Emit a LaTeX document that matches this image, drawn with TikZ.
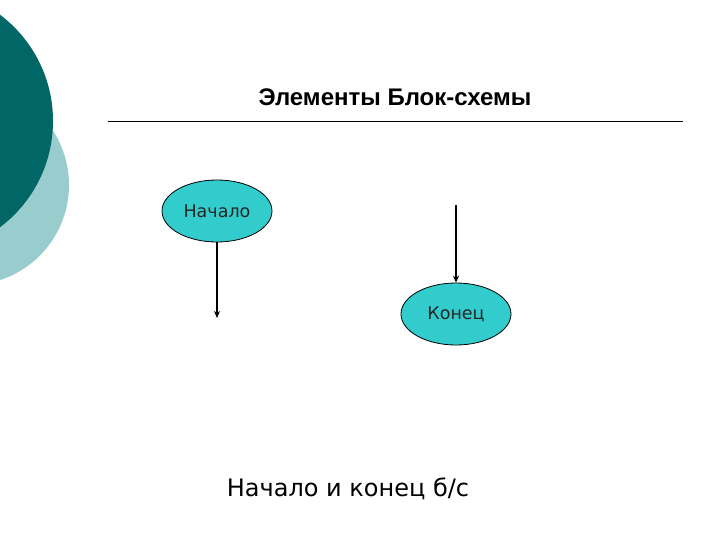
\documentclass[tikz,border=0pt]{standalone}
\usepackage{fontspec}
\setmainfont{DejaVu Sans}
\newfontfamily\titlefont{Liberation Sans}
\usetikzlibrary{shapes.geometric,arrows.meta}
\definecolor{darkteal}{RGB}{0,102,102}
\definecolor{lightteal}{RGB}{153,204,204}
\definecolor{turq}{RGB}{51,204,204}
\tikzset{
  term/.style={ellipse, draw=black, line width=0.8pt, fill=turq, minimum width=110pt, minimum height=62pt, inner sep=0pt, font=\fontsize{17.5}{20}\selectfont, text=black!85},
  flow/.style={draw=black, line width=1.3pt, -{Stealth[length=7pt,width=6pt]}}
}
\begin{document}
\begin{tikzpicture}[x=1pt,y=-1pt]
\useasboundingbox (0,0) rectangle (720,540);
\fill[white] (0,0) rectangle (720,540);
\begin{scope}
\clip (0,0) rectangle (720,540);
\fill[lightteal] (-31,185) circle (100);
\fill[darkteal] (-80,121) circle (133);
\end{scope}
\node[font=\titlefont\bfseries\fontsize{24}{28}\selectfont] (title) at (395,97) {Элементы Блок-схемы};
\coordinate (l1) at (108,121);
\coordinate (l2) at (683,121);
\draw[line width=0.8pt] (l1) -- (l2);
\node[term] (start) at (217,211) {Начало};
\coordinate (startend) at (217,318);
\draw[flow] (start.south) -- (startend);
\node[term] (end) at (456,314) {Конец};
\coordinate (endin) at (456,205);
\draw[flow] (endin) -- (end.north);
\node[font=\fontsize{24}{28}\selectfont] (caption) at (348,489) {Начало и конец б/с};
\end{tikzpicture}
\end{document}
